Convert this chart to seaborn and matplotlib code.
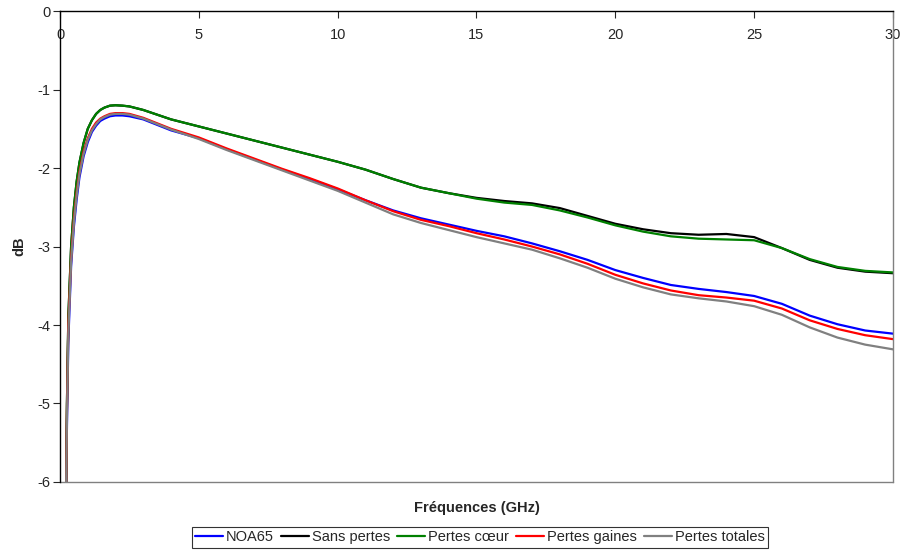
import pandas as pd
import matplotlib.pyplot as plt
import seaborn as sns

freq = [0.22, 0.25, 0.3, 0.4, 0.5, 0.6, 0.7, 0.85, 1.0, 1.15, 1.3, 1.45, 1.6, 1.8, 2.0, 2.25, 2.5, 3.0, 3.5, 4.0,
        5.0, 6.0, 7.0, 8.0, 9.0, 10.0, 11.0, 12.0, 13.0, 14.0, 15.0, 16.0, 17.0, 18.0, 19.0, 20.0,
        21.0, 22.0, 23.0, 24.0, 25.0, 26.0, 27.0, 28.0, 29.0, 30.0]

noa65 = [-6.1, -5.3, -4.2, -3.25, -2.75, -2.40, -2.12, -1.85, -1.67, -1.54, -1.46, -1.40, -1.37, -1.34,
         -1.33, -1.33, -1.34, -1.38, -1.45, -1.52,
         -1.62, -1.76, -1.89, -2.02, -2.14, -2.27, -2.41, -2.54, -2.64, -2.72, -2.80, -2.87, -2.96,
         -3.06, -3.17, -3.30, -3.40, -3.49, -3.54, -3.58, -3.63, -3.73, -3.88, -3.99, -4.07, -4.11]
sans_pertes = [-6.1, -5.0, -3.9, -3.0, -2.5, -2.17, -1.93, -1.68, -1.50, -1.39, -1.31, -1.26, -1.23, -1.205,
               -1.20, -1.205, -1.215, -1.26, -1.32, -1.38,
               -1.47, -1.56, -1.65, -1.74, -1.83, -1.92, -2.02, -2.14, -2.25, -2.32, -2.38, -2.42, -2.45,
               -2.51, -2.61, -2.71, -2.78, -2.83, -2.85, -2.84, -2.88, -3.02, -3.17, -3.27, -3.32, -3.34]
pertes_coeur = [-6.1, -5.0, -3.9, -3.0, -2.5, -2.17, -1.93, -1.68, -1.50, -1.39, -1.31, -1.26, -1.23, -1.205,
                -1.20, -1.205, -1.215, -1.26, -1.32, -1.38,
                -1.47, -1.56, -1.65, -1.74, -1.83, -1.92, -2.02, -2.14, -2.25, -2.32, -2.39, -2.44, -2.47,
                -2.54, -2.63, -2.73, -2.81, -2.87, -2.90, -2.91, -2.92, -3.02, -3.16, -3.26, -3.31, -3.33]
pertes_gaines = [-6.1, -5.1, -4.0, -3.15, -2.65, -2.31, -2.05, -1.79, -1.62, -1.50, -1.42, -1.37, -1.34, -1.31,
                 -1.30, -1.30, -1.31, -1.36, -1.43, -1.50,
                 -1.61, -1.75, -1.88, -2.01, -2.13, -2.26, -2.41, -2.55, -2.66, -2.74, -2.83, -2.91, -3.00,
                 -3.10, -3.22, -3.36, -3.47, -3.56, -3.62, -3.65, -3.69, -3.79, -3.94, -4.05, -4.13, -4.18]
pertes_totales = [-6.1, -5.2, -4.1, -3.2, -2.7, -2.35, -2.08, -1.82, -1.64, -1.52, -1.44, -1.38, -1.35, -1.32,
                  -1.31, -1.31, -1.32, -1.37, -1.44, -1.51,
                  -1.63, -1.77, -1.90, -2.03, -2.16, -2.29, -2.44, -2.59, -2.70, -2.79, -2.88, -2.96, -3.04,
                  -3.15, -3.27, -3.41, -3.52, -3.61, -3.66, -3.70, -3.76, -3.87, -4.03, -4.16, -4.25, -4.31]

series = ['NOA65', 'Sans pertes', 'Pertes cœur', 'Pertes gaines', 'Pertes totales']
colors = ['#0000ff', '#000000', '#008000', '#ff0000', '#808080']

frames = []
for name, vals in zip(series, [noa65, sans_pertes, pertes_coeur, pertes_gaines, pertes_totales]):
    frames.append(pd.DataFrame({'freq': freq, 'dB': vals, 'serie': name}))
df = pd.concat(frames)

sns.set_style('white')
plt.rcParams['font.family'] = ['Liberation Sans', 'DejaVu Sans']

fig = plt.figure(figsize=(9.05, 5.54), dpi=100)
ax = fig.add_axes([0.0663, 0.13, 0.9204, 0.85])

sns.lineplot(data=df, x='freq', y='dB', hue='serie', hue_order=series,
             palette=dict(zip(series, colors)), linewidth=1.6, ax=ax, sort=False)

ax.set_xlim(0, 30)
ax.set_ylim(-6, 0)
ax.set_xticks([0, 5, 10, 15, 20, 25, 30])
ax.set_yticks([0, -1, -2, -3, -4, -5, -6])
ax.set_yticklabels(['0', '-1', '-2', '-3', '-4', '-5', '-6'])

# x axis crosses at y=0, labels below it
ax.spines['bottom'].set_position(('data', 0))
ax.spines['bottom'].set_color('black')
ax.spines['top'].set_visible(False)
ax.spines['left'].set_color('black')
ax.spines['right'].set_color('#808080')
for s in ax.spines.values():
    s.set_linewidth(1.0)
ax.axhline(-6, color='#808080', linewidth=1.0, clip_on=False)

ax.tick_params(axis='x', direction='out', length=5, labelsize=10.5, bottom=True, pad=7.5)
ax.tick_params(axis='y', direction='out', length=5, labelsize=10.5, left=True, pad=2)

ax.set_xlabel('Fréquences (GHz)', fontweight='bold', fontsize=10.5)
ax.xaxis.set_label_coords(0.5, -0.04)
ax.set_ylabel('dB', fontweight='bold', fontsize=10.5, labelpad=8)

leg = ax.legend(loc='upper center', bbox_to_anchor=(0.504, -0.095), ncol=5, fontsize=10.5,
                frameon=True, fancybox=False, edgecolor='black', handlelength=1.9,
                handletextpad=0.2, columnspacing=0.5, borderpad=0.25, borderaxespad=0, title=None)
leg.get_frame().set_linewidth(0.8)

fig.savefig('out.png', dpi=100)
